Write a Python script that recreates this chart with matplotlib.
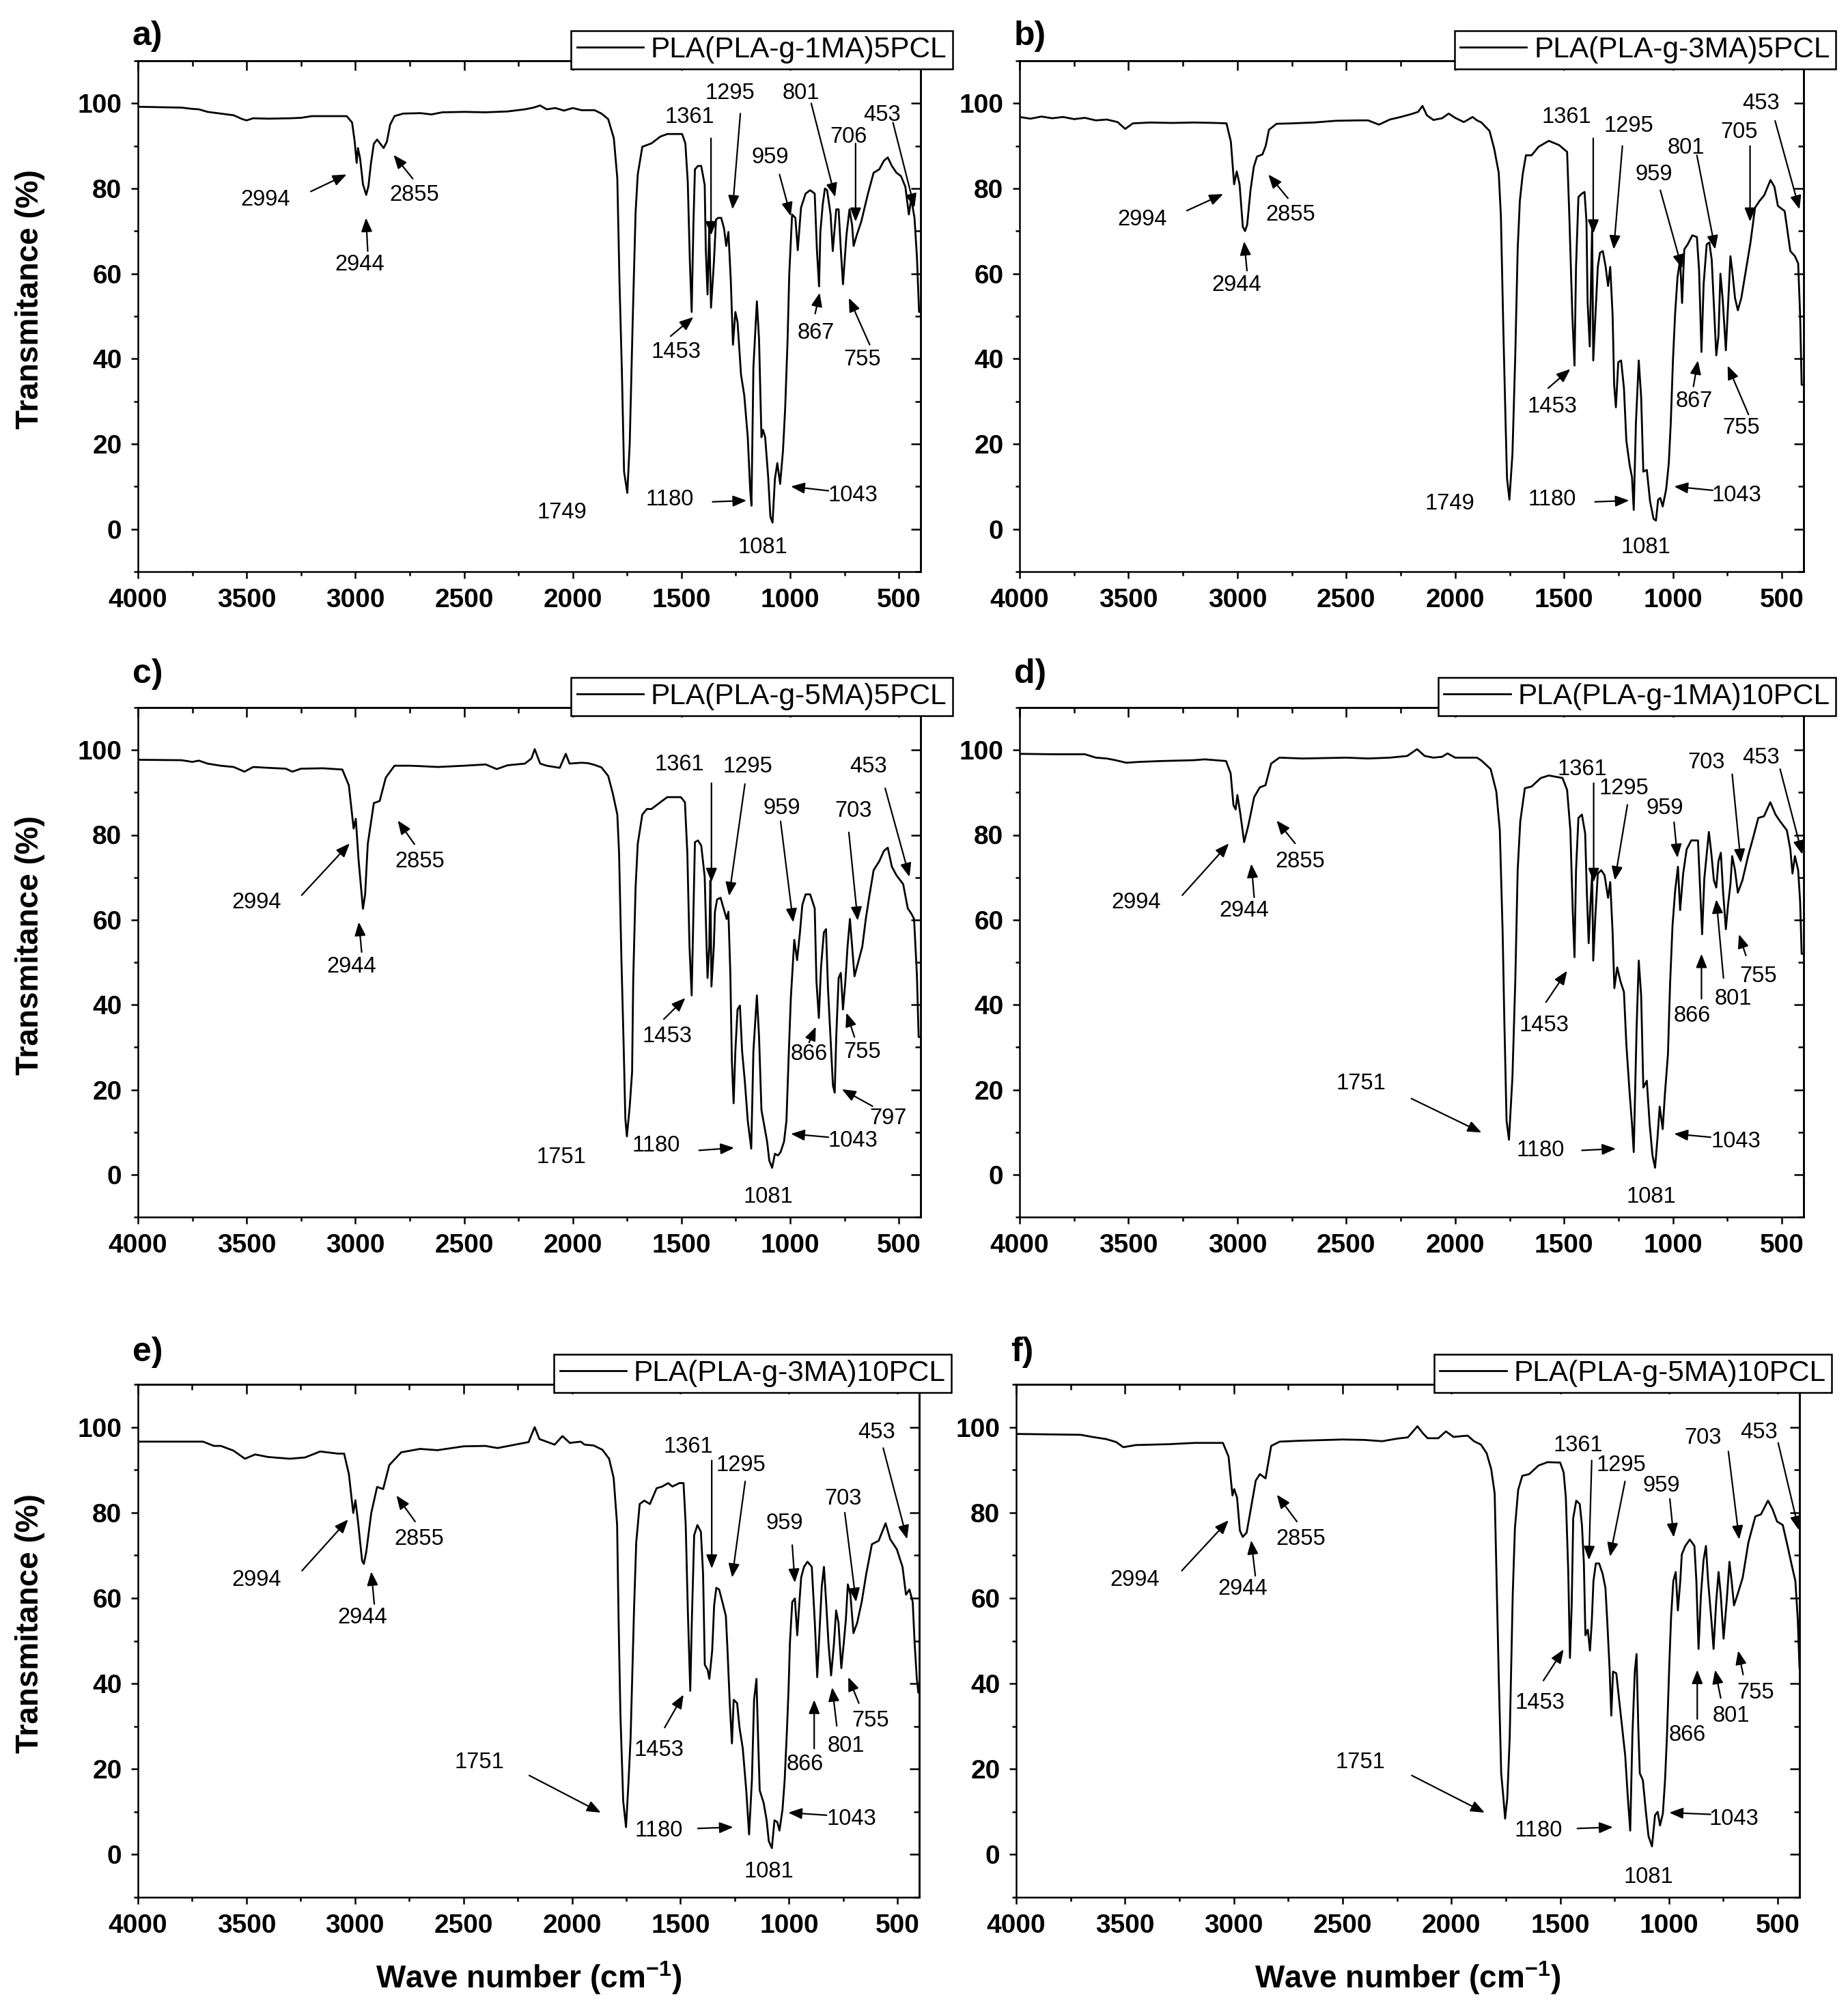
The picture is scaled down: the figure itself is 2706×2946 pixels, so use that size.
import numpy as np
import matplotlib
matplotlib.use('Agg')
import matplotlib.pyplot as plt
from matplotlib.ticker import MultipleLocator

plt.rcParams['font.family'] = ['Liberation Sans', 'DejaVu Sans']
plt.rcParams['mathtext.fontset'] = 'custom'
plt.rcParams['mathtext.rm'] = 'Liberation Sans'
plt.rcParams['mathtext.bf'] = 'Liberation Sans:bold'

# ---- data: (wave number, transmittance %) ----
spec_a = [(4000, 99.2), (3800, 99.0), (3750, 98.7), (3720, 98.6), (3680, 98.0), (3620, 97.6), (3560, 97.2), (3520, 96.3), (3500, 96.0), (3470, 96.5), (3400, 96.4), (3300, 96.5), (3250, 96.6), (3200, 97.0), (3100, 97.0), (3040, 97.0), (3015, 95.5), (3003, 91.0), (2994, 86.0), (2988, 89.5), (2978, 87.0), (2965, 81.0), (2950, 78.5), (2940, 80.5), (2928, 86.0), (2915, 90.5), (2900, 91.5), (2885, 90.5), (2870, 89.5), (2855, 91.0), (2840, 95.0), (2820, 97.0), (2780, 97.6), (2700, 97.7), (2650, 97.4), (2600, 97.9), (2500, 98.0), (2400, 97.9), (2300, 98.1), (2220, 98.6), (2180, 99.0), (2150, 99.5), (2120, 98.6), (2080, 98.9), (2040, 98.3), (2000, 98.9), (1960, 98.4), (1900, 98.4), (1868, 97.6), (1837, 96.3), (1811, 91.8), (1795, 82.4), (1785, 58.0), (1774, 37.1), (1764, 13.5), (1749, 8.5), (1738, 20.0), (1724, 49.4), (1711, 74.3), (1701, 83.3), (1680, 89.8), (1659, 90.2), (1638, 90.6), (1597, 92.2), (1565, 92.8), (1497, 92.8), (1482, 90.6), (1471, 81.6), (1461, 62.4), (1453, 51.0), (1445, 71.4), (1438, 84.5), (1424, 85.3), (1409, 85.3), (1393, 80.8), (1388, 65.7), (1380, 55.1), (1372, 71.0), (1364, 52.0), (1351, 62.4), (1341, 72.7), (1331, 73.1), (1317, 73.1), (1304, 70.6), (1294, 66.5), (1284, 69.8), (1273, 58.4), (1263, 43.3), (1252, 51.0), (1242, 48.6), (1226, 36.3), (1211, 31.4), (1195, 21.6), (1184, 9.4), (1178, 5.5), (1169, 38.0), (1153, 53.5), (1143, 44.5), (1132, 21.6), (1125, 23.3), (1115, 21.6), (1101, 12.2), (1091, 2.9), (1081, 1.5), (1070, 11.8), (1059, 15.5), (1046, 10.6), (1033, 18.4), (1023, 28.2), (1012, 44.1), (1004, 60.0), (991, 73.9), (976, 73.1), (965, 65.5), (950, 75.5), (929, 78.8), (908, 79.6), (887, 78.8), (877, 65.7), (867, 57.0), (861, 69.8), (850, 76.3), (840, 80.0), (830, 79.6), (814, 73.9), (804, 65.3), (788, 75.1), (777, 75.1), (767, 65.7), (757, 57.5), (741, 69.0), (727, 75.1), (715, 71.4), (708, 66.5), (694, 69.0), (673, 72.2), (642, 78.8), (616, 83.7), (590, 84.5), (569, 86.5), (551, 87.3), (532, 85.3), (511, 83.7), (490, 82.9), (470, 80.4), (454, 73.9), (443, 77.6), (428, 73.1), (417, 64.1), (407, 51.0), (402, 51.0)]

spec_b = [(4000, 96.8), (3950, 96.4), (3900, 96.9), (3850, 96.5), (3800, 96.8), (3750, 96.3), (3700, 96.6), (3650, 96.0), (3600, 96.2), (3550, 95.6), (3515, 94.0), (3480, 95.3), (3400, 95.5), (3300, 95.4), (3200, 95.5), (3100, 95.4), (3050, 95.3), (3030, 91.0), (3015, 81.0), (3003, 84.0), (2990, 81.0), (2975, 71.0), (2965, 70.0), (2955, 71.5), (2940, 79.5), (2925, 85.0), (2910, 87.5), (2885, 88.0), (2870, 90.0), (2855, 93.8), (2820, 95.2), (2750, 95.3), (2650, 95.5), (2550, 95.9), (2450, 96.0), (2400, 96.0), (2350, 95.0), (2300, 96.2), (2250, 96.8), (2200, 97.5), (2170, 98.0), (2150, 99.4), (2130, 97.2), (2100, 96.1), (2060, 96.5), (2030, 97.6), (2000, 96.6), (1960, 95.6), (1920, 96.8), (1900, 96.0), (1879, 95.5), (1842, 93.5), (1821, 89.4), (1800, 83.7), (1790, 73.5), (1779, 47.3), (1769, 26.1), (1762, 12.0), (1751, 6.9), (1737, 17.6), (1724, 40.8), (1713, 65.7), (1703, 77.1), (1690, 83.3), (1675, 87.8), (1649, 87.8), (1617, 89.8), (1570, 91.2), (1523, 90.2), (1486, 88.6), (1476, 73.9), (1462, 50.2), (1452, 38.4), (1445, 61.6), (1434, 78.0), (1418, 78.8), (1406, 79.2), (1397, 72.2), (1392, 53.5), (1382, 42.9), (1371, 71.4), (1366, 39.6), (1356, 50.2), (1345, 61.6), (1335, 64.9), (1322, 65.3), (1309, 61.6), (1298, 57.1), (1288, 61.6), (1277, 50.2), (1270, 33.9), (1262, 28.6), (1251, 39.2), (1238, 39.6), (1225, 33.1), (1214, 20.8), (1199, 15.1), (1188, 12.2), (1180, 4.5), (1170, 24.9), (1157, 39.6), (1146, 31.0), (1136, 13.5), (1120, 13.9), (1105, 6.5), (1089, 2.4), (1078, 2.0), (1068, 6.9), (1058, 7.3), (1047, 5.3), (1031, 9.4), (1019, 15.5), (1010, 24.9), (1000, 39.6), (990, 50.6), (979, 59.2), (967, 63.3), (958, 53.1), (948, 65.7), (932, 66.9), (911, 69.0), (890, 68.6), (880, 60.8), (869, 41.6), (859, 57.6), (845, 66.9), (833, 67.3), (822, 63.3), (812, 52.7), (801, 40.8), (791, 45.3), (782, 60.0), (772, 54.3), (757, 42.0), (747, 52.7), (736, 64.1), (728, 60.8), (715, 54.3), (702, 51.4), (686, 54.3), (665, 60.8), (644, 67.3), (623, 75.5), (602, 77.1), (581, 78.4), (552, 82.0), (534, 80.4), (518, 75.9), (487, 74.7), (461, 65.3), (440, 64.1), (425, 62.4), (416, 50.2), (409, 33.9), (402, 33.9)]

spec_c = [(4000, 97.7), (3800, 97.6), (3750, 97.2), (3720, 97.5), (3680, 96.8), (3620, 96.3), (3560, 96.0), (3510, 94.9), (3470, 96.0), (3400, 95.8), (3320, 95.6), (3290, 94.9), (3250, 95.6), (3150, 95.7), (3060, 95.4), (3030, 91.7), (3008, 81.5), (2998, 83.8), (2985, 74.0), (2965, 62.6), (2955, 66.0), (2943, 77.8), (2915, 87.5), (2888, 88.0), (2860, 93.5), (2820, 96.3), (2750, 96.3), (2700, 96.2), (2620, 96.0), (2500, 96.3), (2400, 96.6), (2350, 95.5), (2300, 96.4), (2220, 96.8), (2190, 98.0), (2175, 100.2), (2150, 96.8), (2120, 96.3), (2060, 95.8), (2032, 99.1), (2015, 96.8), (1960, 97.0), (1930, 96.9), (1900, 96.5), (1868, 95.9), (1837, 93.9), (1816, 89.8), (1795, 84.8), (1787, 75.8), (1776, 50.4), (1766, 30.7), (1758, 13.1), (1751, 9.0), (1738, 16.0), (1727, 24.2), (1722, 45.5), (1711, 67.6), (1701, 77.9), (1680, 84.8), (1659, 86.1), (1638, 86.1), (1597, 87.7), (1565, 88.9), (1503, 88.9), (1484, 87.7), (1473, 75.8), (1463, 53.7), (1453, 42.2), (1445, 61.9), (1438, 78.3), (1424, 78.7), (1409, 77.5), (1393, 70.1), (1386, 56.6), (1380, 46.3), (1372, 53.7), (1367, 69.3), (1362, 44.3), (1351, 53.7), (1346, 61.9), (1336, 64.8), (1320, 65.2), (1304, 62.3), (1292, 60.2), (1284, 61.9), (1275, 47.1), (1268, 26.6), (1260, 16.8), (1252, 29.1), (1242, 38.9), (1231, 39.8), (1221, 29.1), (1208, 21.7), (1195, 12.7), (1184, 8.2), (1179, 6.1), (1169, 29.1), (1153, 42.2), (1143, 32.4), (1132, 15.2), (1119, 11.5), (1106, 7.8), (1096, 3.3), (1083, 1.6), (1070, 4.9), (1056, 4.5), (1044, 5.3), (1028, 7.8), (1017, 12.7), (1007, 27.5), (997, 41.4), (986, 50.8), (981, 55.3), (968, 50.5), (955, 57.0), (944, 63.5), (929, 66.0), (908, 66.0), (887, 62.7), (879, 45.5), (868, 36.9), (858, 48.8), (845, 57.0), (835, 57.8), (826, 43.9), (812, 29.9), (803, 20.9), (795, 19.3), (788, 32.4), (777, 46.3), (767, 47.5), (757, 38.9), (746, 45.5), (736, 53.7), (725, 60.2), (715, 53.7), (704, 46.7), (689, 49.6), (668, 53.7), (652, 60.2), (637, 65.2), (616, 71.7), (590, 73.8), (569, 76.2), (551, 77.0), (532, 72.5), (511, 70.5), (480, 68.4), (459, 62.7), (443, 61.5), (430, 60.2), (417, 47.1), (409, 32.4), (402, 32.4)]

spec_d = [(4000, 99.1), (3850, 99.0), (3700, 99.0), (3650, 98.2), (3600, 98.0), (3560, 97.6), (3510, 97.0), (3450, 97.2), (3350, 97.4), (3200, 97.6), (3150, 97.8), (3052, 97.4), (3031, 94.5), (3018, 87.0), (3008, 86.0), (3000, 89.4), (2987, 85.2), (2969, 78.3), (2949, 82.4), (2923, 88.9), (2897, 91.2), (2871, 91.7), (2845, 96.8), (2807, 98.2), (2700, 98.0), (2600, 98.1), (2500, 98.2), (2400, 98.0), (2300, 98.2), (2220, 98.6), (2175, 100.2), (2140, 98.6), (2100, 98.2), (2060, 98.4), (2035, 99.2), (2000, 98.2), (1950, 98.2), (1900, 98.2), (1879, 97.5), (1837, 95.5), (1811, 90.2), (1795, 81.1), (1782, 57.0), (1774, 35.7), (1764, 12.7), (1753, 8.2), (1737, 23.0), (1724, 45.5), (1713, 71.7), (1701, 83.2), (1680, 91.0), (1649, 91.4), (1607, 93.4), (1570, 94.0), (1507, 93.4), (1486, 90.6), (1471, 81.1), (1460, 61.9), (1452, 51.2), (1445, 71.7), (1434, 84.0), (1418, 84.8), (1403, 80.3), (1395, 66.0), (1387, 54.5), (1379, 63.5), (1371, 70.9), (1366, 50.4), (1356, 61.1), (1345, 70.9), (1329, 71.7), (1314, 70.5), (1298, 65.2), (1288, 68.9), (1277, 57.0), (1269, 43.9), (1256, 48.8), (1241, 45.5), (1225, 43.0), (1214, 30.7), (1199, 19.3), (1188, 11.9), (1180, 5.3), (1167, 34.4), (1157, 50.4), (1146, 42.2), (1136, 20.5), (1120, 22.1), (1107, 11.9), (1094, 4.5), (1082, 1.6), (1071, 8.6), (1061, 16.0), (1047, 10.7), (1037, 18.9), (1023, 28.3), (1013, 45.1), (1002, 58.6), (990, 66.8), (977, 72.5), (967, 62.3), (953, 70.9), (937, 76.6), (916, 78.7), (885, 78.7), (874, 66.0), (866, 56.6), (856, 69.7), (843, 76.6), (835, 80.7), (824, 75.8), (812, 69.3), (801, 67.6), (791, 73.8), (780, 75.8), (770, 66.8), (757, 57.8), (747, 63.5), (736, 68.4), (728, 75.0), (715, 71.7), (702, 66.4), (681, 69.3), (655, 75.0), (629, 79.9), (608, 84.0), (582, 84.4), (553, 87.7), (529, 84.8), (508, 83.2), (477, 81.1), (461, 76.6), (451, 70.9), (440, 75.0), (425, 71.7), (416, 64.3), (409, 52.0), (402, 52.0)]

spec_e = [(4000, 96.6), (3850, 96.6), (3700, 96.6), (3650, 95.6), (3618, 95.6), (3560, 94.5), (3507, 92.6), (3460, 93.6), (3400, 93.0), (3300, 92.6), (3230, 92.9), (3160, 94.3), (3080, 93.8), (3050, 93.8), (3028, 89.0), (3008, 79.9), (2998, 82.9), (2986, 77.9), (2967, 68.7), (2959, 68.0), (2948, 70.8), (2925, 79.9), (2898, 86.0), (2870, 85.5), (2842, 91.1), (2787, 94.1), (2700, 94.9), (2620, 94.6), (2500, 95.5), (2400, 95.6), (2343, 95.1), (2250, 96.0), (2200, 96.5), (2172, 100.0), (2150, 97.2), (2080, 95.9), (2044, 97.9), (2010, 96.3), (1960, 96.6), (1942, 95.9), (1900, 95.7), (1860, 94.7), (1829, 92.6), (1808, 88.1), (1792, 77.1), (1785, 54.2), (1777, 33.0), (1764, 12.5), (1751, 6.4), (1740, 16.6), (1730, 27.2), (1714, 57.5), (1704, 73.0), (1688, 82.0), (1667, 82.8), (1641, 82.0), (1610, 85.7), (1584, 86.1), (1557, 86.9), (1537, 86.1), (1505, 86.9), (1486, 86.9), (1476, 77.1), (1466, 56.7), (1455, 38.3), (1448, 54.2), (1437, 74.7), (1422, 77.1), (1406, 75.5), (1396, 65.7), (1388, 44.4), (1375, 43.2), (1367, 41.1), (1354, 47.7), (1345, 58.3), (1335, 62.4), (1322, 62.0), (1307, 59.1), (1291, 55.8), (1284, 48.5), (1273, 35.4), (1263, 26.0), (1255, 36.2), (1239, 35.4), (1228, 29.7), (1213, 24.8), (1197, 15.0), (1184, 4.7), (1171, 17.4), (1161, 36.2), (1150, 41.1), (1142, 26.4), (1135, 15.0), (1117, 12.1), (1103, 8.0), (1093, 3.1), (1079, 1.5), (1067, 8.0), (1054, 7.6), (1044, 5.6), (1030, 10.5), (1020, 17.4), (1009, 29.7), (1002, 38.7), (996, 49.3), (985, 59.1), (973, 59.9), (962, 51.3), (952, 59.1), (944, 64.8), (931, 67.3), (915, 68.5), (895, 67.3), (881, 54.2), (870, 41.5), (860, 51.8), (849, 62.8), (839, 67.3), (829, 59.1), (818, 49.3), (806, 41.9), (793, 49.3), (783, 57.1), (772, 54.2), (759, 43.6), (748, 49.3), (738, 55.0), (729, 63.2), (717, 60.8), (703, 51.8), (686, 54.2), (665, 59.1), (644, 65.7), (618, 72.6), (587, 73.4), (555, 77.5), (534, 73.8), (503, 71.4), (477, 67.3), (461, 60.8), (445, 62.0), (430, 59.1), (421, 49.3), (411, 41.1), (404, 37.9)]

spec_f = [(4000, 98.4), (3850, 98.3), (3704, 98.2), (3650, 97.7), (3587, 97.2), (3540, 96.5), (3508, 95.3), (3450, 95.8), (3300, 96.0), (3181, 96.3), (3050, 96.3), (3024, 93.1), (3006, 84.0), (2998, 85.5), (2985, 83.5), (2972, 75.8), (2959, 74.3), (2941, 75.3), (2925, 79.9), (2899, 87.5), (2880, 89.0), (2854, 88.0), (2828, 95.6), (2789, 96.6), (2700, 96.8), (2500, 97.1), (2400, 97.0), (2318, 96.7), (2250, 97.3), (2200, 97.6), (2156, 100.2), (2130, 98.5), (2109, 97.4), (2060, 97.4), (2025, 99.0), (1990, 97.7), (1950, 97.9), (1925, 98.0), (1896, 96.7), (1864, 95.9), (1838, 93.9), (1817, 90.2), (1801, 84.5), (1792, 64.0), (1782, 41.1), (1771, 19.0), (1761, 13.3), (1753, 8.4), (1743, 13.3), (1732, 27.2), (1718, 60.8), (1708, 76.3), (1693, 85.3), (1674, 88.6), (1642, 89.0), (1600, 91.0), (1558, 91.8), (1500, 91.7), (1484, 89.4), (1474, 83.6), (1463, 66.5), (1455, 46.0), (1447, 58.3), (1440, 78.7), (1426, 82.8), (1410, 82.0), (1400, 77.1), (1391, 68.1), (1384, 51.3), (1373, 52.6), (1363, 47.7), (1355, 54.2), (1347, 64.0), (1336, 68.1), (1321, 68.1), (1305, 65.7), (1292, 62.4), (1284, 55.0), (1273, 43.6), (1265, 32.5), (1257, 42.8), (1242, 42.4), (1229, 36.2), (1215, 29.7), (1201, 23.1), (1189, 13.3), (1178, 5.6), (1168, 28.0), (1157, 42.8), (1149, 46.9), (1141, 29.7), (1134, 19.0), (1120, 17.4), (1106, 10.0), (1094, 4.3), (1078, 1.9), (1064, 9.2), (1052, 10.0), (1041, 6.8), (1028, 9.6), (1018, 17.4), (1009, 28.0), (999, 43.6), (990, 55.8), (980, 64.0), (969, 66.1), (959, 57.1), (948, 64.0), (941, 70.2), (925, 72.2), (904, 73.7), (883, 72.2), (874, 64.0), (864, 48.1), (853, 60.8), (841, 68.9), (830, 72.2), (820, 64.0), (804, 54.2), (795, 48.1), (783, 59.1), (772, 66.1), (762, 60.8), (749, 50.5), (735, 59.1), (722, 68.5), (712, 64.0), (701, 58.3), (685, 60.8), (661, 64.8), (635, 73.0), (603, 79.1), (577, 79.6), (545, 82.8), (524, 80.8), (503, 77.9), (477, 77.1), (455, 72.2), (434, 67.3), (419, 64.0), (408, 55.0), (400, 43.6)]

labels = ['PLA(PLA-g-1MA)5PCL', 'PLA(PLA-g-3MA)5PCL', 'PLA(PLA-g-5MA)5PCL',
          'PLA(PLA-g-1MA)10PCL', 'PLA(PLA-g-3MA)10PCL', 'PLA(PLA-g-5MA)10PCL']
letters = ['a)', 'b)', 'c)', 'd)', 'e)', 'f)']

# peak labels: text, text x, text y, arrow from x, y, arrow to x, y (None = no arrow)
ann_a = [('2994', 3412, 77.3, 3205, 79.3, 3040, 83.3), ('2944', 2979, 62.1, 2943, 65.3, 2951, 73.1),
         ('2855', 2728, 78.5, 2736, 82.3, 2824, 87.9), ('1749', 2051, 3.9, None, None, None, None),
         ('1361', 1461, 96.7, 1364, 91.8, 1364, 69.0), ('1295', 1278, 102.3, 1229, 97.6, 1265, 75.1),
         ('959', 1091, 87.3, 1049, 83.3, 997, 73.5), ('801', 950, 102.3, 903, 100.0, 793, 78.0),
         ('706', 730, 92.1, 699, 90.6, 699, 72.2), ('453', 576, 97.3, 527, 95.5, 428, 75.5),
         ('1453', 1524, 41.5, 1550, 45.3, 1445, 49.8), ('867', 882, 46.1, 885, 50.6, 864, 55.5),
         ('755', 668, 39.8, 634, 43.3, 730, 54.3), ('1180', 1555, 6.9, 1357, 6.4, 1200, 6.7),
         ('1043', 710, 7.9, 824, 9.0, 997, 10.0), ('1081', 1125, -4.3, None, None, None, None)]
ann_b = [('2994', 3438, 72.7, 3232, 74.8, 3065, 78.7), ('2944', 3005, 57.3, 2956, 60.7, 2969, 67.6),
         ('2855', 2755, 73.8, 2768, 77.7, 2858, 83.3), ('1749', 2026, 6.0, None, None, None, None),
         ('1361', 1490, 96.7, 1366, 91.8, 1366, 69.4), ('1295', 1204, 94.7, 1232, 90.0, 1272, 65.7),
         ('959', 1089, 83.3, 1058, 79.6, 958, 61.2), ('801', 939, 89.6, 890, 87.8, 806, 65.7),
         ('705', 697, 93.2, 646, 90.0, 646, 72.2), ('453', 597, 100.0, 531, 95.9, 419, 75.1),
         ('1453', 1554, 28.8, 1573, 33.1, 1471, 37.6), ('867', 901, 30.0, 906, 33.5, 885, 39.6),
         ('755', 686, 23.7, 653, 26.9, 749, 38.4), ('1180', 1554, 6.9, 1358, 6.4, 1201, 6.7),
         ('1043', 707, 7.9, 817, 9.1, 995, 10.0), ('1081', 1126, -4.3, None, None, None, None)]
ann_c = [('2994', 3453, 64.1, 3247, 65.8, 3026, 78.0), ('2944', 3017, 49.0, 2971, 52.4, 2984, 59.5),
         ('2855', 2703, 73.7, 2728, 77.8, 2805, 83.4), ('1751', 2051, 4.1, None, None, None, None),
         ('1361', 1508, 96.5, 1362, 92.2, 1362, 68.9), ('1295', 1195, 96.1, 1208, 92.0, 1281, 65.6),
         ('959', 1038, 86.3, 1044, 83.2, 986, 59.4), ('703', 710, 85.7, 730, 80.6, 689, 59.8),
         ('453', 639, 96.1, 563, 91.0, 451, 70.1), ('1453', 1565, 32.5, 1581, 36.6, 1482, 41.6),
         ('866', 913, 28.3, 913, 31.1, 882, 34.8), ('755', 668, 28.9, 704, 32.4, 741, 38.1),
         ('797', 548, 13.3, 621, 16.1, 762, 20.1), ('1180', 1618, 6.8, 1419, 5.7, 1257, 6.3),
         ('1043', 710, 8.0, 824, 8.8, 997, 9.6), ('1081', 1101, -5.3, None, None, None, None)]
ann_d = [('2994', 3464, 64.1, 3253, 65.8, 3039, 78.0), ('2944', 2969, 62.1, 2923, 65.3, 2936, 73.2),
         ('2855', 2712, 73.7, 2735, 78.0, 2820, 83.4), ('1751', 2433, 21.4, 2201, 17.9, 1879, 9.9),
         ('1361', 1418, 95.5, 1364, 92.2, 1364, 68.9), ('1295', 1225, 91.0, 1209, 87.1, 1267, 69.3),
         ('959', 1037, 86.3, 995, 83.0, 979, 74.6), ('703', 848, 97.1, 728, 94.3, 688, 73.4),
         ('453', 597, 98.1, 508, 95.5, 406, 75.4), ('1453', 1591, 35.2, 1583, 40.6, 1486, 48.0),
         ('866', 911, 37.3, 869, 41.4, 869, 52.0), ('801', 723, 41.4, 768, 46.3, 801, 64.8),
         ('755', 608, 46.7, 665, 51.6, 697, 56.6), ('1180', 1607, 5.7, 1418, 5.7, 1262, 6.1),
         ('1043', 712, 7.8, 827, 8.8, 995, 9.6), ('1081', 1099, -5.3, None, None, None, None)]
ann_e = [('2994', 3452, 64.2, 3244, 66.4, 3031, 78.4), ('2944', 2967, 55.5, 2911, 58.6, 2925, 66.2),
         ('2855', 2704, 73.8, 2723, 77.9, 2809, 84.0), ('1751', 2427, 21.5, 2197, 18.5, 1867, 9.8),
         ('1361', 1463, 95.3, 1356, 92.2, 1356, 66.9), ('1295', 1223, 91.0, 1202, 87.3, 1262, 64.8),
         ('959', 1020, 77.5, 985, 72.4, 973, 63.6), ('703', 751, 83.2, 743, 80.0, 691, 59.1),
         ('453', 595, 98.8, 566, 95.1, 456, 73.8), ('1453', 1599, 24.5, 1573, 29.7, 1486, 37.4),
         ('866', 926, 21.1, 884, 24.8, 884, 36.2), ('801', 738, 25.4, 780, 30.1, 801, 39.1),
         ('755', 623, 31.3, 678, 35.4, 727, 41.5), ('1180', 1599, 5.6, 1420, 6.1, 1257, 6.4),
         ('1043', 712, 8.3, 827, 9.2, 1004, 9.8), ('1081', 1093, -4.0, None, None, None, None)]
ann_f = [('2994', 3456, 64.2, 3239, 66.4, 3024, 78.2), ('2944', 2959, 62.1, 2901, 65.2, 2920, 73.5),
         ('2855', 2692, 73.8, 2710, 77.9, 2802, 84.2), ('1751', 2417, 21.5, 2182, 18.5, 1847, 9.8),
         ('1361', 1416, 95.7, 1355, 92.2, 1368, 68.9), ('1295', 1220, 91.0, 1202, 87.3, 1271, 69.7),
         ('959', 1036, 86.3, 996, 83.2, 978, 74.2), ('703', 843, 97.4, 727, 94.3, 677, 73.7),
         ('453', 587, 98.8, 498, 96.3, 403, 75.9), ('1453', 1592, 35.4, 1577, 40.7, 1484, 48.0),
         ('866', 917, 28.0, 870, 31.7, 870, 43.2), ('801', 714, 32.4, 762, 36.6, 788, 43.2),
         ('755', 603, 37.9, 659, 42.1, 682, 47.7), ('1180', 1600, 5.6, 1421, 6.1, 1257, 6.4),
         ('1043', 703, 8.3, 809, 9.4, 999, 9.8), ('1081', 1094, -5.3, None, None, None, None)]

specs = [spec_a, spec_b, spec_c, spec_d, spec_e, spec_f]
anns = [ann_a, ann_b, ann_c, ann_d, ann_e, ann_f]

# ---- layout (pixels) ----
W, H = 2706, 2946
# left, right, top, bottom, letter y
boxes = [(202, 1348, 89, 837, 53), (1493, 2641, 89, 837, 53),
         (202, 1348, 1036, 1782, 987), (1493, 2641, 1036, 1782, 987),
         (202, 1346, 2027, 2778, 1980), (1488, 2635, 2027, 2778, 1980)]

fig = plt.figure(figsize=(W / 100, H / 100), dpi=100)

for i in range(6):
    l, r, t, b, ly = boxes[i]
    ax = fig.add_axes([l / W, 1 - b / H, (r - l) / W, (b - t) / H])
    pts = np.array(specs[i])
    ax.plot(pts[:, 0], pts[:, 1], color='black', lw=2.0, label=labels[i])
    ax.set_xlim(4000, 400)
    ax.set_ylim(-10, 110)

    ax.xaxis.set_major_locator(MultipleLocator(500))
    ax.xaxis.set_minor_locator(MultipleLocator(250))
    ax.yaxis.set_major_locator(MultipleLocator(20))
    ax.yaxis.set_minor_locator(MultipleLocator(10))
    ax.tick_params(which='major', direction='out', length=7, width=1.8, pad=10,
                   labelsize=28)
    ax.tick_params(which='minor', direction='out', length=4, width=1.8)
    for lab in ax.get_xticklabels() + ax.get_yticklabels():
        lab.set_fontweight('bold')
    for s in ax.spines.values():
        s.set_linewidth(1.8)

    # inward ticks on top and right
    sx = ax.secondary_xaxis('top')
    sx.xaxis.set_major_locator(MultipleLocator(500))
    sx.xaxis.set_minor_locator(MultipleLocator(250))
    sx.tick_params(which='major', direction='in', length=10, width=1.8, labeltop=False)
    sx.tick_params(which='minor', direction='in', length=6, width=1.8)
    sx.spines['top'].set_linewidth(1.8)
    sy = ax.secondary_yaxis('right')
    sy.yaxis.set_major_locator(MultipleLocator(20))
    sy.yaxis.set_minor_locator(MultipleLocator(10))
    sy.tick_params(which='major', direction='in', length=10, width=1.8, labelright=False)
    sy.tick_params(which='minor', direction='in', length=6, width=1.8)
    sy.spines['right'].set_linewidth(1.8)

    for txt, tx, ty, x0, y0, x1, y1 in anns[i]:
        ax.text(tx, ty, txt, fontsize=23.5, ha='center', va='center')
        if x0 is not None:
            ax.annotate('', xy=(x1, y1), xytext=(x0, y0), annotation_clip=False,
                        arrowprops=dict(arrowstyle='-|>,head_length=0.55,head_width=0.22',
                                        color='black', lw=1.6, mutation_scale=22,
                                        shrinkA=0, shrinkB=0))

    leg = ax.legend(loc='center right', bbox_to_anchor=(1 + 47 / (r - l), 1 + 16 / (b - t)),
                    fontsize=30.5, frameon=True, fancybox=False, framealpha=1,
                    edgecolor='black', borderpad=0.2, handlelength=2.3,
                    handletextpad=0.25, borderaxespad=0)
    leg.get_frame().set_linewidth(1.8)
    leg.set_zorder(10)

    fig.text((l - 8) / W, 1 - ly / H, letters[i], fontsize=36, fontweight='bold',
             ha='left', va='center')

    if i % 2 == 0:
        fig.text(44 / W, 1 - ((t + b) / 2 - 25) / H, 'Transmitance (%)', rotation=90,
                 fontsize=33, fontweight='bold', ha='center', va='center')
    if i >= 4:
        fig.text((l + r) / 2 / W, 1 - 2896 / H, r'Wave number (cm$^{\mathbf{-1}}$)',
                 fontsize=33, fontweight='bold', ha='center', va='center')

fig.savefig('out.png', dpi=100, facecolor='white')
